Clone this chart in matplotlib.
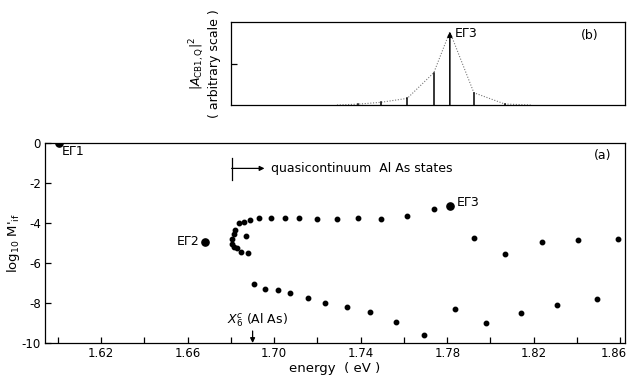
import matplotlib
matplotlib.use("Agg")
import matplotlib.pyplot as plt
import matplotlib.transforms as mtransforms

plt.rcParams['font.family'] = ['DejaVu Sans']
plt.rcParams['mathtext.fontset'] = 'dejavusans'

# ---- panel (a): log10 M'_if versus transition energy ----
# named states
state_labels = ["EΓ1", "EΓ2", "EΓ3"]
state_energy = [1.6004, 1.6681, 1.7812]
state_logm = [0.0, -4.93, -3.17]

# upper branch of the quasicontinuum
upper_energy = [1.6805, 1.6807, 1.6812, 1.6820, 1.6815, 1.6826, 1.6846, 1.6881,
                1.6869, 1.6838, 1.6858, 1.6889, 1.6931, 1.6985, 1.7049, 1.7115,
                1.7200, 1.7289, 1.7387, 1.7495, 1.7615, 1.7738]
upper_logm = [-5.07, -4.80, -4.57, -4.35, -5.18, -5.24, -5.44, -5.52,
              -4.64, -4.02, -3.94, -3.84, -3.75, -3.75, -3.73, -3.75,
              -3.82, -3.82, -3.75, -3.80, -3.63, -3.30]

# states above EΓ3
high_energy = [1.7923, 1.8066, 1.8236, 1.8404, 1.8589]
high_logm = [-4.77, -5.53, -4.97, -4.83, -4.82]

# lower branch
lower_energy = [1.6907, 1.6958, 1.7018, 1.7075, 1.7155, 1.7235, 1.7338, 1.7443,
                1.7561, 1.7692, 1.7835, 1.7981, 1.8143, 1.8309, 1.8492]
lower_logm = [-7.07, -7.30, -7.37, -7.52, -7.75, -7.98, -8.20, -8.45,
              -8.95, -9.60, -8.30, -8.98, -8.48, -8.12, -7.81]

x_edge_alas = 1.690          # X6c (AlAs)
quasi_start = 1.6803

# ---- panel (b): |A_CB1,Q|^2 (arbitrary scale) ----
stick_energy = [1.7387, 1.7495, 1.7615, 1.7738, 1.7812, 1.7923, 1.8066]
stick_weight = [0.010, 0.033, 0.080, 0.390, 0.883, 0.148, 0.012]
envelope_energy = [1.7290, 1.7387, 1.7495, 1.7615, 1.7738, 1.7812, 1.7923, 1.8066, 1.8186]
envelope_weight = [0.0, 0.010, 0.033, 0.080, 0.390, 0.883, 0.148, 0.012, 0.0]

xlim = (1.594, 1.8622)
fig = plt.figure(figsize=(6.28, 3.75), dpi=100)

# bottom panel
axa = fig.add_axes([45/628, 1-343/375, 580/628, 200/375])
axa.plot(upper_energy + high_energy + lower_energy,
         upper_logm + high_logm + lower_logm,
         'o', color='black', ms=3.2, mec='black')
axa.plot(state_energy, state_logm, 'o', color='black', ms=5.2)
axa.set_xlim(*xlim)
axa.set_ylim(-10, 0)
axa.set_xticks([1.60 + 0.02*i for i in range(14)])
axa.set_xticklabels(['' if i % 2 == 0 else f"{1.60 + 0.02*i:.2f}" for i in range(14)])
axa.set_yticks([0, -2, -4, -6, -8, -10])
axa.set_yticklabels(['0', '-2', '-4', '-6', '-8', '-10'])
axa.tick_params(direction='in', length=4, width=0.9, labelsize=8.5, pad=3)
for s in axa.spines.values():
    s.set_linewidth(0.9)
# keep the last energy label inside the figure
last = axa.get_xticklabels()[-1]
last.set_transform(last.get_transform() +
                   mtransforms.ScaledTranslation(-7/100, 0, fig.dpi_scale_trans))
axa.set_xlabel('energy  ( eV )', fontsize=9.5, labelpad=1)
axa.set_ylabel("log$_{10}$ M$'_{\\rm if}$", fontsize=9.5, labelpad=0)

axa.text(1.6018, -0.12, state_labels[0], fontsize=9, va='top', ha='left')
axa.text(1.6655, -4.93, state_labels[1], fontsize=9, va='center', ha='right')
axa.text(1.7846, -2.97, state_labels[2], fontsize=9, va='center', ha='left')
axa.text(0.962, 0.94, '(a)', transform=axa.transAxes, fontsize=9, ha='center', va='center')

# quasicontinuum marker
axa.plot([quasi_start, quasi_start], [-0.75, -1.85], color='black', lw=0.9)
axa.annotate('', xy=(1.6955, -1.27), xytext=(quasi_start, -1.27),
             arrowprops=dict(arrowstyle='-|>', color='black', lw=0.9,
                             mutation_scale=7, shrinkA=0, shrinkB=0))
axa.text(1.6985, -1.27, 'quasicontinuum  Al As states', fontsize=9,
         va='center', ha='left')

# X6c (AlAs) marker
axa.annotate('', xy=(x_edge_alas, -10), xytext=(x_edge_alas, -9.4),
             arrowprops=dict(arrowstyle='-|>', color='black', lw=0.9,
                             mutation_scale=7, shrinkA=0, shrinkB=0))
axa.text(1.6922, -8.85, '$X_6^c$ (Al As)', fontsize=9, ha='center', va='center')

# top panel
axb = fig.add_axes([231/628, 1-105/375, 394/628, 83/375])
axb.set_xlim(1.680, xlim[1])
axb.set_ylim(0, 1)
axb.plot(envelope_energy, envelope_weight, linestyle=(0, (1, 1.5)),
         color='#777777', lw=0.8)
for e, w in zip(stick_energy, stick_weight):
    if w == max(stick_weight):
        axb.annotate('', xy=(e, w), xytext=(e, 0),
                     arrowprops=dict(arrowstyle='-|>', color='black', lw=1.1,
                                     mutation_scale=7, shrinkA=0, shrinkB=0))
    else:
        axb.plot([e, e], [0, w], color='black', lw=1.1)
axb.set_xticks([])
axb.set_yticks([0.5])
axb.set_yticklabels([])
axb.tick_params(direction='in', length=4, width=0.9)
for s in axb.spines.values():
    s.set_linewidth(0.9)
axb.text(1.7835, 0.86, state_labels[2], fontsize=9, ha='left', va='center')
axb.text(0.91, 0.84, '(b)', transform=axb.transAxes, fontsize=9, ha='center', va='center')
axb.set_ylabel('$|A_{\\rm CB1,Q}|^2$\n( arbitrary scale )', fontsize=9,
               labelpad=4, linespacing=1.1)

fig.savefig('out.png', dpi=100)
